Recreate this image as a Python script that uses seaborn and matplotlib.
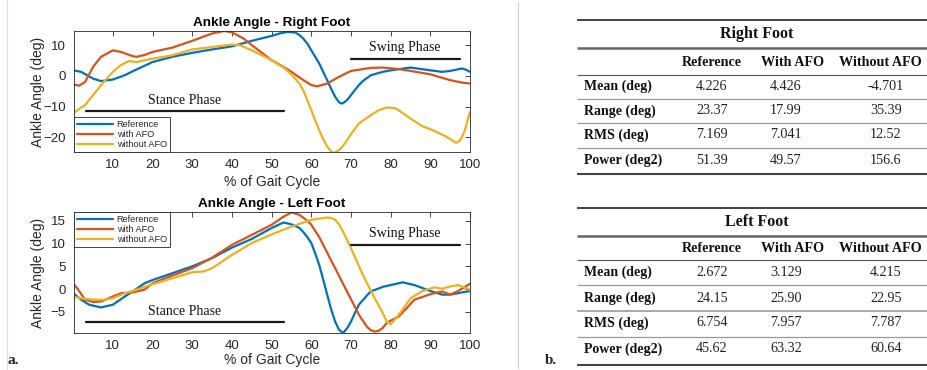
import matplotlib
matplotlib.use("Agg")
import matplotlib.pyplot as plt
import numpy as np
import pandas as pd
import seaborn as sns

# ---------------- ankle angle curves (deg) vs % of gait cycle ----------------
right_ref_x = [0, 2, 5, 7, 10, 13, 15, 20, 25, 30, 35, 40, 45, 50, 52, 54, 56, 57, 58, 59, 60,
               61, 62, 63, 64, 65, 66, 67, 67.5, 68, 69, 70, 71, 72, 73, 75, 78, 80, 85, 90,
               93, 95, 98, 99, 100]
right_ref_y = [1.8, 1.3, -0.9, -1.7, -1.2, 0.2, 1.5, 4.5, 6.2, 7.5, 8.6, 9.6, 11.4, 13.0, 13.8,
               14.3, 14.1, 13.3, 12.1, 10.5, 8.3, 6.2, 4.0, 1.3, -1.4, -4.2, -6.8, -8.6, -9.0,
               -8.9, -7.9, -6.3, -4.6, -3.0, -1.7, 0.2, 1.3, 1.8, 2.7, 1.8, 1.3, 1.6, 2.4, 2.0,
               1.3]

right_afo_x = [0, 1.5, 3, 5, 7, 10, 12, 15, 16, 18, 20, 25, 30, 35, 38, 40, 43, 45, 50, 53, 55,
               58, 60, 61.5, 64, 67, 70, 75, 78, 82, 85, 90, 95, 98, 100]
right_afo_y = [-2.8, -3.2, -2.0, 2.9, 6.2, 8.3, 7.8, 6.4, 6.2, 6.8, 7.8, 9.2, 11.4, 13.8, 14.6,
               14.2, 12.1, 10.0, 5.1, 2.9, 1.3, -1.4, -3.0, -3.4, -2.5, -0.3, 1.6, 2.6, 2.7,
               2.2, 1.6, 0.5, -1.4, -2.2, -2.5]

right_noafo_x = [0, 2, 3, 5, 7, 10, 12, 14, 16, 18, 20, 25, 30, 35, 40, 42, 45, 50, 53, 55, 57,
                 58, 59, 60, 61, 62, 63, 64, 65, 65.5, 66, 67, 68, 69, 70, 72, 75, 77, 79, 81,
                 82, 85, 88, 91, 94, 96.5, 97.5, 98.5, 100]
right_noafo_y = [-12.2, -10.3, -9.5, -6.3, -3.0, 1.3, 3.5, 4.8, 4.5, 5.1, 5.6, 6.7, 8.6, 9.4,
                 10.2, 10.0, 8.3, 5.1, 2.7, 0.5, -2.5, -4.8, -7.9, -11.2, -14.6, -17.7, -20.6,
                 -23.0, -24.6, -25.0, -24.9, -24.2, -22.8, -20.9, -19.0, -15.5, -12.8, -11.2,
                 -10.3, -10.5, -11.2, -13.9, -16.4, -17.9, -19.8, -21.8, -21.0, -18.5, -11.7]

left_ref_x = [0, 2, 4, 7, 10, 13, 15, 18, 20, 25, 30, 35, 40, 45, 50, 53, 55, 57, 58, 59, 60,
              61, 62, 63, 64, 65, 66, 67, 68, 69, 70, 71, 72, 74, 75, 78, 80, 83, 86, 90, 93,
              95, 98, 100]
left_ref_y = [-0.9, -2.3, -3.4, -4.0, -3.4, -1.6, -0.5, 1.3, 2.0, 3.5, 5.0, 6.8, 9.1, 11.0, 13.4,
              14.6, 14.2, 13.4, 12.5, 11.4, 10.1, 7.8, 5.3, 2.1, -1.2, -4.4, -7.1, -8.9, -9.6,
              -8.6, -7.1, -5.2, -3.4, -1.4, -0.5, 0.5, 0.9, 1.5, 0.9, -0.4, -1.2, -1.2, -0.7,
              -0.4]

left_afo_x = [0, 1, 3, 5, 7, 10, 12, 15, 18, 20, 25, 30, 35, 40, 45, 50, 53, 55, 57, 59, 60,
              62, 63, 66, 69, 72, 74, 75, 76, 77, 78, 79, 80, 82, 84, 86, 90, 93, 95, 97, 100]
left_afo_y = [1.2, 0.2, -2.3, -2.8, -2.7, -1.6, -0.9, -0.7, -0.1, 1.3, 3.0, 4.6, 6.9, 9.7, 11.9,
              14.1, 15.9, 16.8, 16.3, 15.0, 14.1, 11.4, 9.7, 4.6, -0.5, -5.6, -8.2, -9.0, -9.3,
              -9.1, -8.5, -7.4, -6.9, -6.0, -4.2, -2.3, -1.1, -0.5, -1.2, -0.4, 1.2]

left_noafo_x = [0, 2, 5, 8, 10, 13, 15, 20, 25, 30, 33, 35, 40, 45, 50, 55, 60, 64, 65, 66, 67,
                68, 70, 73, 76, 78, 79, 80, 81, 83, 85, 88, 91, 93, 95, 97, 99, 100]
left_noafo_y = [-1.6, -2.0, -2.3, -2.3, -2.0, -0.9, -0.4, 1.1, 2.4, 3.7, 3.9, 4.6, 7.5, 10.1,
                12.0, 13.7, 15.2, 15.7, 15.6, 15.2, 14.2, 12.6, 9.0, 3.1, -2.0, -5.2, -7.1,
                -7.7, -6.7, -4.5, -2.0, -0.4, 0.4, 0.1, 0.6, 0.9, 0.2, -0.1]

series_names = ["Reference", "with AFO", "without AFO"]
series_colors = ["#0072BD", "#D95319", "#EDB120"]

pct_ticks = [10, 20, 30, 40, 50, 60, 70, 80, 90, 100]
right_yticks = [-20, -10, 0, 10]
left_yticks = [-5, 0, 5, 10, 15]

# ---------------- summary statistics tables ----------------
stat_rows = ["Mean (deg)", "Range (deg)", "RMS (deg)", "Power (deg2)"]
conditions = ["Reference", "With AFO", "Without AFO"]
right_stats = [["4.226", "4.426", "-4.701"],
               ["23.37", "17.99", "35.39"],
               ["7.169", "7.041", "12.52"],
               ["51.39", "49.57", "156.6"]]
left_stats = [["2.672", "3.129", "4.215"],
              ["24.15", "25.90", "22.95"],
              ["6.754", "7.957", "7.787"],
              ["45.62", "63.32", "60.64"]]

sns.set_theme(style="white")
plt.rcParams["font.family"] = ["Liberation Sans", "DejaVu Sans"]

W, H = 928, 370
fig = plt.figure(figsize=(W / 100, H / 100), dpi=100)
fig.patch.set_facecolor("white")

# overlay in pixel coordinates for tables and page decorations
ov = fig.add_axes([0, 0, 1, 1])
ov.set_xlim(0, W)
ov.set_ylim(H, 0)
ov.axis("off")


def px_axes(left, top, right, bottom):
    return fig.add_axes([left / W, (H - bottom) / H, (right - left) / W, (bottom - top) / H])


AX_COL = "#262626"


def long_frame(xs, ys):
    parts = []
    for name, x, y in zip(series_names, xs, ys):
        parts.append(pd.DataFrame({"pct": x, "angle": y, "series": name}))
    return pd.concat(parts, ignore_index=True)


def style_axes(ax, ylim, yticks, title, xlabel_y):
    ax.set_xlim(0.2, 100)
    ax.set_ylim(*ylim)
    ax.set_xticks(pct_ticks)
    ax.set_yticks(yticks)
    ax.tick_params(direction="in", length=3.5, width=0.6, color=AX_COL, labelcolor=AX_COL,
                   labelsize=9.5, top=True, right=True, pad=5)
    ax.tick_params(axis="y", pad=6)
    for sp in ax.spines.values():
        sp.set_color(AX_COL)
        sp.set_linewidth(0.6)
    ax.set_xlabel("% of Gait Cycle", fontsize=10, color=AX_COL)
    ax.set_ylabel("Ankle Angle (deg)", fontsize=10, color=AX_COL)
    ax.yaxis.set_label_coords(-0.073, 0.5)
    ax.xaxis.set_label_coords(0.5, xlabel_y)
    ax.set_title(title, fontsize=9.7, fontweight="bold", color="black", pad=3.5)


def phase_marks(ax, stance_text_y, stance_line_y, swing_text_y, swing_line_y):
    tf = dict(family=["Liberation Serif", "DejaVu Serif"], fontsize=10, color="#111111",
              ha="center", va="center")
    ax.text(28.0, stance_text_y, "Stance Phase", **tf)
    ax.plot([3.2, 53.1], [stance_line_y, stance_line_y], color="#1a1a1a", lw=1.6)
    ax.text(83.6, swing_text_y, "Swing Phase", **tf)
    ax.plot([70.0, 97.5], [swing_line_y, swing_line_y], color="#1a1a1a", lw=1.6)


def add_legend(ax, loc):
    handles = ax.get_lines()[:3]
    leg = ax.legend(handles, series_names, loc=loc, bbox_to_anchor=(0, 0, 1, 1),
                    borderaxespad=0, fontsize=6.6, handlelength=3.9, handletextpad=0.45,
                    labelspacing=0.12, borderpad=0.3, frameon=True, fancybox=False,
                    framealpha=1, edgecolor=AX_COL)
    leg.get_frame().set_linewidth(0.6)
    for t in leg.get_texts():
        t.set_color(AX_COL)


# right foot plot
ax1 = px_axes(74, 31, 470, 152)
df_r = long_frame([right_ref_x, right_afo_x, right_noafo_x],
                  [right_ref_y, right_afo_y, right_noafo_y])
sns.lineplot(data=df_r, x="pct", y="angle", hue="series", palette=series_colors,
             estimator=None, linewidth=1.6, legend=False, ax=ax1)
style_axes(ax1, (-24.8, 14.6), right_yticks, "Ankle Angle - Right Foot", -0.19)
phase_marks(ax1, -7.9, -11.5, 9.3, 5.4)
add_legend(ax1, "lower left")

# left foot plot
ax2 = px_axes(74, 212, 470, 333)
df_l = long_frame([left_ref_x, left_afo_x, left_noafo_x],
                  [left_ref_y, left_afo_y, left_noafo_y])
sns.lineplot(data=df_l, x="pct", y="angle", hue="series", palette=series_colors,
             estimator=None, linewidth=1.6, legend=False, ax=ax2)
style_axes(ax2, (-9.6, 16.9), left_yticks, "Ankle Angle - Left Foot", -0.165)
phase_marks(ax2, -4.9, -7.3, 12.3, 9.7)
add_legend(ax2, "upper left")

# tables
serif = ["Liberation Serif", "DejaVu Serif"]
TAB_L, TAB_R = 577, 928
label_x = 584
header_cx = [712, 793, 880]
value_cx = [712, 786, 886]


def draw_table(title, title_y, header_y, row_ys, rule_ys, stats):
    ov.text((TAB_L + TAB_R) / 2 + 4, title_y, title, family=serif, fontsize=11.5,
            fontweight="bold", ha="center", va="center", color="#111111")
    for cx, name in zip(header_cx, conditions):
        ov.text(cx, header_y, name, family=serif, fontsize=10.2, fontweight="bold",
                ha="center", va="center", color="#111111")
    for ry, rname, vals in zip(row_ys, stat_rows, stats):
        ov.text(label_x, ry, rname, family=serif, fontsize=10, fontweight="bold",
                ha="left", va="center", color="#111111")
        for cx, v in zip(value_cx, vals):
            ov.text(cx, ry, v, family=serif, fontsize=10.2, ha="center", va="center",
                    color="#222222")
    for y, col, lw in rule_ys:
        ov.plot([TAB_L, TAB_R], [y, y], color=col, lw=lw, solid_capstyle="butt")


draw_table("Right Foot", 34, 62, [86, 111, 135, 160],
           [(19.5, "#333333", 1.3), (48, "#666666", 1.8), (75, "#555555", 0.8),
            (99, "#999999", 0.9), (123, "#999999", 0.9), (148, "#999999", 0.9),
            (174, "#444444", 1.5)],
           right_stats)
draw_table("Left Foot", 222, 248, [272, 298, 323, 349],
           [(208, "#333333", 1.3), (236, "#666666", 1.8), (260, "#555555", 0.8),
            (285, "#999999", 0.9), (311, "#999999", 1.2), (337, "#999999", 0.9),
            (365, "#444444", 1.5)],
           left_stats)

# panel letters and page edges
ov.text(8, 361, "a.", family=serif, fontsize=11, fontweight="bold", ha="left", va="center")
ov.text(545, 360, "b.", family=serif, fontsize=11, fontweight="bold", ha="left", va="center")
ov.plot([7, 7], [0, H], color="#dddddd", lw=0.8)
ov.plot([518, 518], [2, 368], color="#cccccc", lw=0.8)

fig.savefig("out.png", dpi=100, facecolor="white")
